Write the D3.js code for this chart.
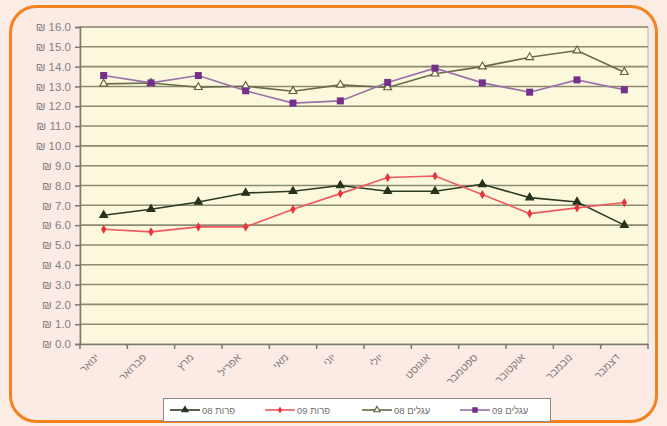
<!DOCTYPE html>
<html><head><meta charset="utf-8">
<script src="https://cdn.jsdelivr.net/npm/d3@7/dist/d3.min.js"></script>
<style>body{margin:0;background:#fbece4;}svg{display:block;font-family:"Liberation Sans",Arial,sans-serif;}</style>
</head><body>
<svg id="c" width="667" height="426"></svg>
<script>
const months = ["ינואר","פברואר","מרץ","אפריל","מאי","יוני","יולי","אוגוסט","ספטמבר","אוקטובר","נובמבר","דצמבר"];
const yTicks = [0,1,2,3,4,5,6,7,8,9,10,11,12,13,14,15,16];
const cows08 = [6.5,6.8,7.17,7.62,7.71,8.0,7.71,7.71,8.06,7.39,7.17,6.0];
const cows09 = [5.79,5.66,5.91,5.91,6.8,7.59,8.4,8.48,7.54,6.58,6.87,7.14];
const calves08 = [13.13,13.17,12.96,13.01,12.76,13.08,12.95,13.64,14.0,14.47,14.81,13.72];
const calves09 = [13.55,13.18,13.55,12.78,12.16,12.27,13.2,13.92,13.18,12.71,13.33,12.83];
const seriesNames = ["פרות 08","פרות 09","עגלים 08","עגלים 09"];

const series = [
  {name:seriesNames[0], values:cows08, color:"#27321c", line:"#2c3a22", marker:"triFill"},
  {name:seriesNames[1], values:cows09, color:"#e8333d", line:"#ee5a5e", marker:"diamond"},
  {name:seriesNames[2], values:calves08, color:"#5e5e3c", line:"#6a6a48", marker:"triHollow"},
  {name:seriesNames[3], values:calves09, color:"#74308a", line:"#9a70a8", marker:"square"}
];

const svg = d3.select("#c");
svg.append("rect").attr("x",0).attr("y",0).attr("width",667).attr("height",426).attr("fill","#fbece4");
svg.append("rect").attr("x",10.5).attr("y",6.5).attr("width",646).attr("height",415).attr("rx",26)
  .attr("fill","#fcebe5").attr("stroke","#f5821f").attr("stroke-width",3);

const L=80, R=648, T=27, B=344;
const x = d3.scaleBand().domain(months).range([L,R]);
const y = d3.scaleLinear().domain([0,16]).range([B,T]);

svg.append("rect").attr("x",L).attr("y",T).attr("width",R-L).attr("height",B-T).attr("fill","#fbf8db").attr("stroke","#b8b8a8");

svg.append("g").selectAll("line").data(yTicks.slice(1)).join("line")
  .attr("x1",L).attr("x2",R).attr("y1",d=>y(d)).attr("y2",d=>y(d))
  .attr("stroke","#8d8c72").attr("stroke-width",1.6);

const ya = svg.append("g").attr("transform",`translate(${L},0)`)
  .call(d3.axisLeft(y).tickValues(yTicks).tickSize(5).tickPadding(4).tickFormat(d=>"₪ "+d3.format(".1f")(d)));
ya.select(".domain").attr("stroke","#7a7a70").attr("stroke-width",1.5);
ya.selectAll(".tick line").attr("stroke","#7a7a70").attr("stroke-width",1.5);
ya.selectAll("text").attr("fill","#858080").attr("font-size",11.5);

const xa = svg.append("g").attr("transform",`translate(0,${B})`)
  .call(d3.axisBottom(x).tickSize(0).tickFormat(""));
xa.select(".domain").attr("stroke","#7a7a70").attr("stroke-width",1.5);
svg.append("g").selectAll("line").data(d3.range(months.length+1)).join("line")
  .attr("x1",i=>L+i*x.step()).attr("x2",i=>L+i*x.step()).attr("y1",B).attr("y2",B+5)
  .attr("stroke","#7a7a70").attr("stroke-width",1.5);
svg.append("g").selectAll("text").data(months).join("text")
  .attr("transform",d=>`translate(${x(d)+x.bandwidth()/2-4},${B+14}) rotate(-45)`)
  .attr("text-anchor","end").attr("font-size",10.5).attr("fill","#807a7a").text(d=>d);

function marker(g, type, color, s){
  if(type==="triFill"||type==="triHollow"){
    g.append("path").attr("d",d3.symbol(d3.symbolTriangle, s*s*0.55)())
      .attr("fill",type==="triFill"?color:"#fffbe8").attr("stroke",color).attr("stroke-width",1.1);
  } else if(type==="diamond"){
    g.append("path").attr("d",d3.symbol(d3.symbolDiamond, s*s*0.5)()).attr("fill",color);
  } else {
    g.append("rect").attr("x",-s/2).attr("y",-s/2).attr("width",s).attr("height",s).attr("fill",color);
  }
}

const line = d3.line().x((d,i)=>x(months[i])+x.bandwidth()/2).y(d=>y(d));
series.forEach(sr=>{
  svg.append("path").attr("d",line(sr.values)).attr("fill","none").attr("stroke",sr.line).attr("stroke-width",1.6);
  sr.values.forEach((v,i)=>{
    const g = svg.append("g").attr("transform",`translate(${x(months[i])+x.bandwidth()/2},${y(v)})`);
    marker(g, sr.marker, sr.color, 7);
  });
});

const lg = svg.append("g");
lg.append("rect").attr("x",163.5).attr("y",398.5).attr("width",387).attr("height",23).attr("fill","#ffffff").attr("stroke","#8a8a8a");
const lx = [170,265,362,460];
series.forEach((sr,i)=>{
  const g = lg.append("g").attr("transform",`translate(${lx[i]},410)`);
  g.append("line").attr("x1",0).attr("x2",30).attr("stroke",sr.line).attr("stroke-width",1.6);
  const m = g.append("g").attr("transform","translate(15,0)");
  marker(m, sr.marker, sr.color, 5.5);
  g.append("text").attr("x",32).attr("y",3.5).attr("font-size",9.5).attr("fill","#707070")
    .attr("direction","rtl").attr("text-anchor","end").text(sr.name);
});
</script>
</body></html>
